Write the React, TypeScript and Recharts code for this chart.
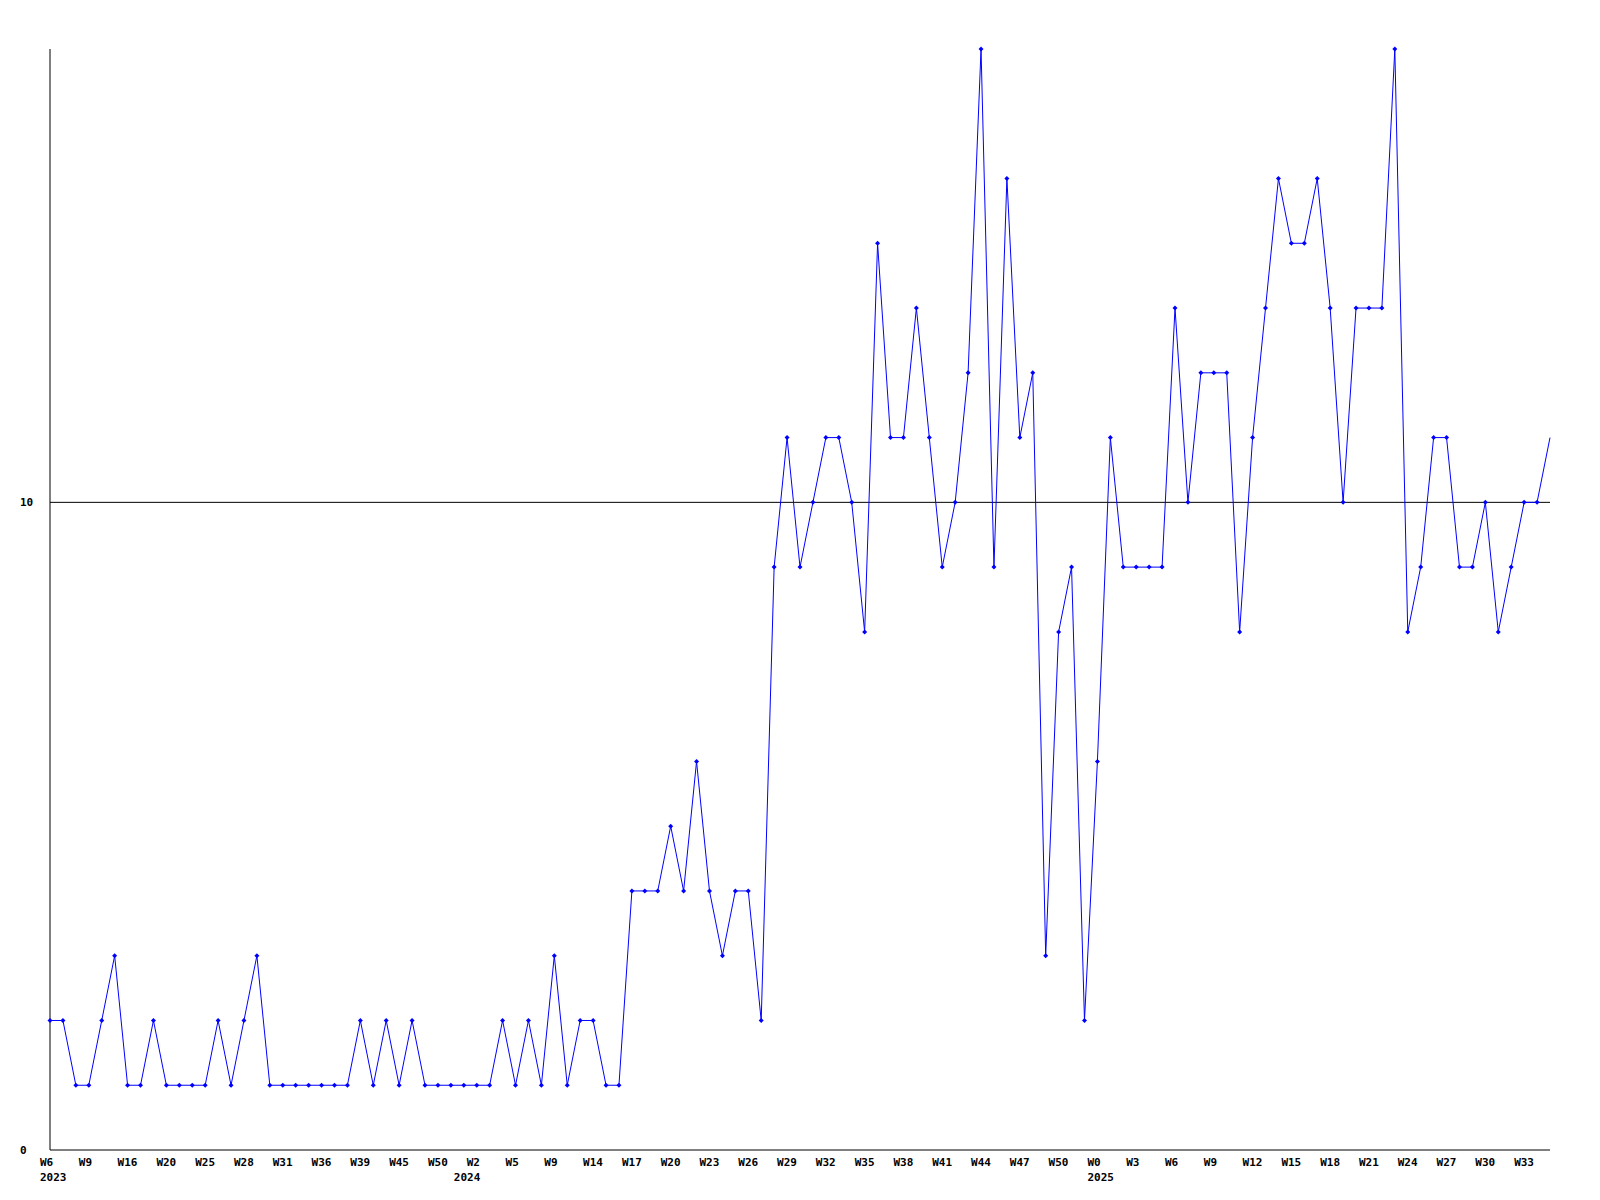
import React from 'react';
import { LineChart, Line, XAxis, YAxis, ReferenceLine } from 'recharts';

const values: number[] = [
  2, 2, 1, 1, 2, 3, 1, 1, 2, 1,
  1, 1, 1, 2, 1, 2, 3, 1, 1, 1,
  1, 1, 1, 1, 2, 1, 2, 1, 2, 1,
  1, 1, 1, 1, 1, 2, 1, 2, 1, 3,
  1, 2, 2, 1, 1, 4, 4, 4, 5, 4,
  6, 4, 3, 4, 4, 2, 9, 11, 9, 10,
  11, 11, 10, 8, 14, 11, 11, 13, 11, 9,
  10, 12, 17, 9, 15, 11, 12, 3, 8, 9,
  2, 6, 11, 9, 9, 9, 9, 13, 10, 12,
  12, 12, 8, 11, 13, 15, 14, 14, 15, 13,
  10, 13, 13, 13, 17, 8, 9, 11, 11, 9,
  9, 10, 8, 9, 10, 10, 11,
];

const tickLabels: string[] = [
  'W6', 'W9', 'W16', 'W20', 'W25', 'W28', 'W31', 'W36', 'W39', 'W45', 'W50',
  'W2', 'W5', 'W9', 'W14', 'W17', 'W20', 'W23', 'W26', 'W29', 'W32', 'W35', 'W38', 'W41', 'W44', 'W47', 'W50',
  'W0', 'W3', 'W6', 'W9', 'W12', 'W15', 'W18', 'W21', 'W24', 'W27', 'W30', 'W33',
];

const yearIndices: number[] = [0, 32, 81];
const yearNames: string[] = ['2023', '2024', '2025'];

const yTicks: number[] = [0, 10];

const TICK_STEP = 3;
const data = values.map((v, i) => ({ i, v }));
const labelTicks = tickLabels.map((_, k) => k * TICK_STEP);
const xTicks = Array.from(new Set([...labelTicks, ...yearIndices])).sort((a, b) => a - b);

const FONT = '"DejaVu Sans Mono", monospace';

const XTick = (props: any) => {
  const { x, payload } = props;
  const idx = Math.round(payload.value);
  const label = idx % TICK_STEP === 0 ? tickLabels[idx / TICK_STEP] : undefined;
  const yi = yearIndices.indexOf(idx);
  const year = yi >= 0 ? yearNames[yi] : undefined;
  return (
    <g>
      {label && (
        <text x={x - 10} y={1166} textAnchor="start" fontFamily={FONT} fontWeight="bold" fontSize={11} fill="#000">
          {label}
        </text>
      )}
      {year && (
        <text x={x - 10} y={1181} textAnchor="start" fontFamily={FONT} fontWeight="bold" fontSize={11} fill="#000">
          {year}
        </text>
      )}
    </g>
  );
};

const YTick = (props: any) => {
  const { y, payload } = props;
  return (
    <text x={20} y={y + 4} textAnchor="start" fontFamily={FONT} fontWeight="bold" fontSize={11} fill="#000">
      {payload.value}
    </text>
  );
};

const Dot = (props: any) => {
  const { cx, cy, index } = props;
  if (index === values.length - 1 || cx == null || cy == null) return <g key={`d${index}`} />;
  return (
    <polygon
      key={`d${index}`}
      points={`${cx},${cy - 2.5} ${cx + 2.5},${cy} ${cx},${cy + 2.5} ${cx - 2.5},${cy}`}
      fill="#0000ff"
      stroke="none"
    />
  );
};

export default function App() {
  return (
    <div style={{ position: 'absolute', left: 0, top: 0, width: 1600, height: 1200, background: '#fff' }}>
      <LineChart width={1600} height={1200} data={data} margin={{ top: 49, right: 50, bottom: 0, left: 0 }}>
        <XAxis
          dataKey="i"
          type="number"
          domain={[0, values.length - 1]}
          ticks={xTicks}
          tick={<XTick />}
          tickLine={false}
          axisLine={{ stroke: '#000', strokeWidth: 1 }}
          height={50}
          interval={0}
        />
        <YAxis
          type="number"
          domain={[0, 17]}
          ticks={yTicks}
          tick={<YTick />}
          tickLine={false}
          axisLine={{ stroke: '#000', strokeWidth: 1 }}
          width={50}
          interval={0}
        />
        <ReferenceLine y={10} stroke="#000" strokeWidth={1} />
        <Line
          type="linear"
          dataKey="v"
          stroke="#0000ff"
          strokeWidth={1}
          dot={<Dot />}
          activeDot={false}
          isAnimationActive={false}
        />
      </LineChart>
    </div>
  );
}
